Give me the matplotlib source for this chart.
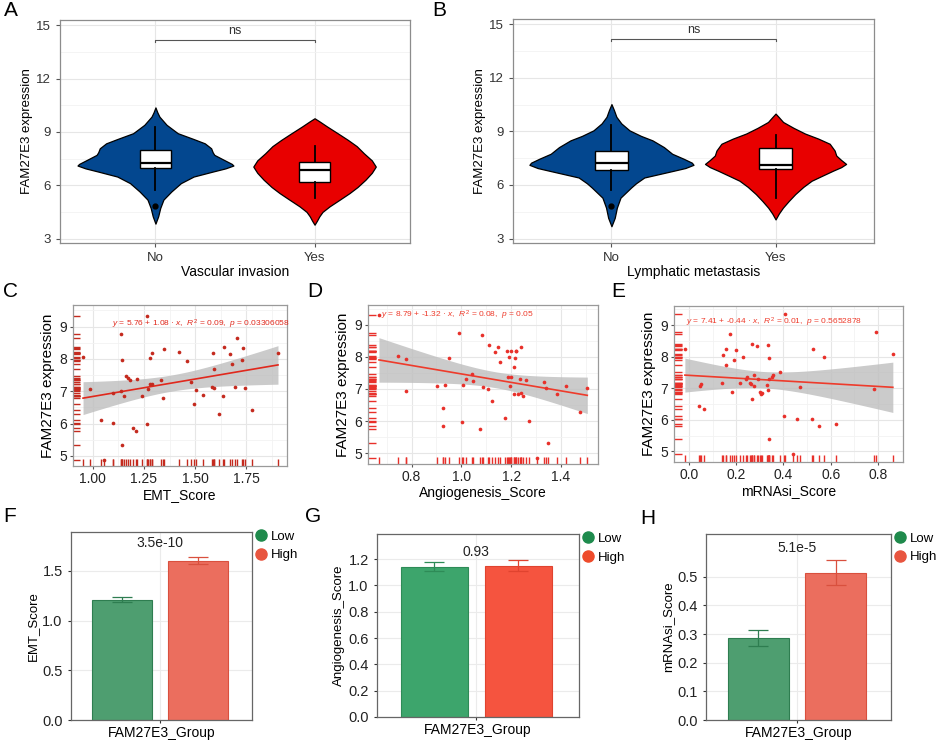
import numpy as np
import matplotlib
matplotlib.use('Agg')
import matplotlib.pyplot as plt
import seaborn as sns
from matplotlib.lines import Line2D

plt.rcParams['font.family'] = ['Liberation Sans', 'DejaVu Sans']
plt.rcParams['mathtext.fontset'] = 'custom'
plt.rcParams['mathtext.it'] = 'Liberation Sans:italic'
plt.rcParams['mathtext.rm'] = 'Liberation Sans'

# ---- violin panels (A, B): outline profiles (value, half width)
groups = ['No', 'Yes']

a_no_y = [10.38, 10.1, 9.86, 9.4, 8.93, 8.6, 8.36, 8.08, 7.85, 7.71, 7.43, 7.2, 7.11, 6.95, 6.77, 6.49, 6.12, 5.65, 5.19, 4.72, 4.25, 3.84]
a_no_w = [0, 0.012, 0.025, 0.07, 0.14, 0.24, 0.31, 0.35, 0.36, 0.37, 0.43, 0.48, 0.49, 0.44, 0.36, 0.24, 0.16, 0.10, 0.05, 0.03, 0.017, 0]
a_yes_y = [9.77, 9.6, 9.3, 8.9, 8.55, 8.2, 7.8, 7.4, 7.05, 6.7, 6.31, 5.9, 5.56, 5.2, 4.81, 4.5, 4.25, 4.0, 3.78]
a_yes_w = [0, 0.03, 0.08, 0.15, 0.21, 0.265, 0.31, 0.36, 0.385, 0.36, 0.32, 0.27, 0.22, 0.16, 0.094, 0.05, 0.03, 0.015, 0]
b_no_y = [10.53, 10.2, 9.82, 9.45, 9.06, 8.75, 8.5, 8.12, 7.75, 7.47, 7.25, 7.13, 6.95, 6.8, 6.42, 6.1, 5.86, 5.29, 4.73, 4.16, 3.69]
b_no_w = [0, 0.015, 0.03, 0.06, 0.11, 0.18, 0.25, 0.32, 0.37, 0.44, 0.49, 0.5, 0.45, 0.38, 0.2, 0.15, 0.12, 0.055, 0.033, 0.02, 0]
b_yes_y = [10.0, 9.8, 9.53, 9.2, 8.88, 8.6, 8.31, 7.93, 7.65, 7.4, 7.18, 7.0, 6.8, 6.5, 6.24, 5.9, 5.49, 5.1, 4.73, 4.4, 4.07]
b_yes_w = [0, 0.02, 0.046, 0.11, 0.18, 0.26, 0.33, 0.36, 0.37, 0.4, 0.43, 0.4, 0.35, 0.28, 0.22, 0.17, 0.12, 0.08, 0.045, 0.02, 0]

# box stats: q1, median, q3, whisker low, whisker high
a_box_no = [6.95, 7.24, 8.0, 5.75, 9.3]
a_box_yes = [6.21, 6.87, 7.33, 5.28, 8.21]
b_box_no = [6.84, 7.21, 7.93, 5.7, 9.35]
b_box_yes = [6.9, 7.12, 8.07, 5.29, 8.78]
a_fliers_no = [4.81]
b_fliers_no = [4.82]
sig_y = 14.2

# ---- scatter panels (C, D, E)
c_x = [0.953, 0.989, 1.039, 1.055, 1.097, 1.10, 1.138, 1.144, 1.138, 1.152, 1.141, 1.164, 1.17, 1.18, 1.214,
       1.199, 1.21, 1.243, 1.264, 1.267, 1.27, 1.28, 1.282, 1.29, 1.29, 1.332, 1.342, 1.347, 1.42, 1.462,
       1.481, 1.492, 1.504, 1.538, 1.585, 1.591, 1.583, 1.59, 1.615, 1.64, 1.635, 1.669, 1.679, 1.693, 1.705,
       1.727, 1.734, 1.745, 1.779, 1.904]
c_y = [8.05, 7.06, 6.10, 4.88, 6.02, 6.94, 8.76, 7.97, 7.0, 6.85, 5.34, 7.48, 7.42, 7.34, 7.38,
       5.87, 5.76, 6.85, 5.98, 9.34, 7.06, 8.02, 7.23, 8.19, 7.24, 7.34, 6.78, 8.32, 8.21, 7.93,
       7.28, 6.62, 7.04, 6.9, 8.19, 7.7, 7.13, 7.11, 6.29, 8.36, 6.84, 8.15, 7.86, 7.12, 8.66,
       7.97, 8.33, 7.09, 6.42, 8.2]
d_x = [0.669, 0.745, 0.777, 0.777, 0.903, 0.933, 0.926, 0.926, 0.95, 0.989, 1.005, 1.004, 1.02, 1.042, 1.045,
       1.083, 1.087, 1.107, 1.112, 1.123, 1.073, 1.135, 1.147, 1.155, 1.175, 1.184, 1.188, 1.192, 1.194, 1.2,
       1.199, 1.212, 1.21, 1.217, 1.218, 1.22, 1.229, 1.237, 1.239, 1.241, 1.246, 1.258, 1.27, 1.302, 1.332,
       1.34, 1.349, 1.385, 1.421, 1.478, 1.506]
d_y = [9.31, 8.04, 7.92, 6.93, 7.08, 7.13, 6.40, 5.83, 7.96, 8.74, 7.12, 5.97, 7.32, 7.47, 7.24,
       8.67, 7.06, 7.0, 8.37, 6.61, 5.75, 8.15, 8.32, 7.85, 6.09, 8.2, 7.36, 8.01, 7.1, 7.38,
       8.2, 7.69, 6.84, 7.96, 8.2, 8.17, 6.84, 7.32, 8.32, 6.89, 6.77, 7.29, 6.0, 4.86, 7.23,
       7.04, 5.33, 6.85, 7.1, 6.28, 7.03]
e_x = [-0.017, 0.042, 0.046, 0.051, 0.066, 0.141, 0.145, 0.158, 0.159, 0.176, 0.183, 0.189, 0.199, 0.227, 0.218,
       0.244, 0.242, 0.258, 0.263, 0.266, 0.269, 0.275, 0.277, 0.29, 0.293, 0.3, 0.304, 0.311, 0.332, 0.335,
       0.338, 0.337, 0.335, 0.339, 0.351, 0.356, 0.385, 0.401, 0.406, 0.441, 0.456, 0.47, 0.52, 0.527, 0.552,
       0.57, 0.624, 0.782, 0.79, 0.863]
e_y = [8.23, 6.44, 7.07, 7.13, 6.34, 7.16, 8.05, 7.74, 8.23, 8.71, 6.87, 7.89, 8.21, 8.0, 7.16,
       7.35, 7.29, 7.16, 7.13, 6.66, 8.39, 7.07, 7.42, 8.35, 7.28, 6.88, 6.81, 6.86, 7.11, 8.37,
       7.96, 7.29, 6.95, 5.38, 7.35, 7.42, 7.52, 6.13, 9.37, 4.92, 6.04, 7.03, 6.02, 8.24, 5.79,
       8.0, 5.87, 6.97, 8.78, 8.08]
c_coef = (5.76, 1.08)
d_coef = (8.79, -1.32)
e_coef = (7.41, -0.44)
c_eq = r'$y$ = 5.76 + 1.08 · $x$,  $R^2$ = 0.09,  $p$ = 0.03306058'
d_eq = r'$y$ = 8.79 + -1.32 · $x$,  $R^2$ = 0.08,  $p$ = 0.05'
e_eq = r'$y$ = 7.41 + -0.44 · $x$,  $R^2$ = 0.01,  $p$ = 0.5652878'

# ---- bar panels (F, G, H)
bar_groups = ['Low', 'High']
f_mean = [1.21, 1.60]
f_err = [0.026, 0.035]
g_mean = [1.142, 1.15]
g_err = [0.033, 0.04]
h_mean = [0.286, 0.514]
h_err = [0.028, 0.044]
f_p, g_p, h_p = '3.5e-10', '0.93', '5.1e-5'

W, H = 941, 743
fig = plt.figure(figsize=(W / 100, H / 100), dpi=100)


def px_axes(l, t, r, b):
    return fig.add_axes([l / W, 1 - b / H, (r - l) / W, (b - t) / H])


def style_frame(ax, color='#8C8C8C'):
    for s in ax.spines.values():
        s.set_color(color)
        s.set_linewidth(0.9)


def violin_panel(ax, profiles, boxes, fliers, xlabel):
    colors = ['#03478F', '#E80000']
    for i, ((ys, ws), col) in enumerate(zip(profiles, colors)):
        ys, ws = np.array(ys), np.array(ws)
        st = dict(coords=ys, vals=ws, mean=ys.mean(), median=ys.mean(),
                  min=ys.min(), max=ys.max(), quantiles=np.array([]))
        parts = ax.violin([st], positions=[i + 1], widths=[2 * ws.max()],
                          showextrema=False)
        for pc in parts['bodies']:
            pc.set_facecolor(col)
            pc.set_edgecolor('black')
            pc.set_linewidth(0.9)
            pc.set_alpha(1)
            pc.set_zorder(2)
    stats = []
    for (q1, med, q3, lo, hi), fl in zip(boxes, fliers):
        stats.append(dict(q1=q1, med=med, q3=q3, whislo=lo, whishi=hi, fliers=fl))
    ax.bxp(stats, positions=[1, 2], widths=0.2, patch_artist=True, showcaps=False,
           boxprops=dict(facecolor='white', edgecolor='black', linewidth=1),
           medianprops=dict(color='black', linewidth=1.6),
           whiskerprops=dict(color='black', linewidth=1.3),
           flierprops=dict(marker='o', markerfacecolor='black', markeredgecolor='black',
                           markersize=3.5),
           zorder=3)
    ax.plot([1, 1, 2, 2], [sig_y - 0.12, sig_y, sig_y, sig_y - 0.12], color='#555555', lw=0.8)
    ax.text(1.5, sig_y + 0.12, 'ns', ha='center', va='bottom', fontsize=9, color='#333333')
    ax.set_xlim(0.4, 2.6)
    ax.set_ylim(2.75, 15.3)
    ax.set_xticks([1, 2])
    ax.set_xticklabels(groups)
    ax.set_yticks([3, 6, 9, 12, 15])
    ax.set_yticks([4.5, 7.5, 10.5, 13.5], minor=True)
    ax.grid(which='major', color='#E6E6E6', lw=0.8)
    ax.grid(which='minor', axis='y', color='#F2F2F2', lw=0.6)
    ax.set_axisbelow(True)
    ax.tick_params(which='minor', length=0)
    ax.tick_params(which='major', length=3, color='#555555', labelcolor='#333333', labelsize=9.5)
    ax.set_ylabel('FAM27E3 expression', fontsize=9.5, labelpad=2)
    ax.set_xlabel(xlabel, fontsize=10, labelpad=1)
    style_frame(ax)


def reg_panel(ax, xs, ys, coef, eq, eq_pos, pcolor, lcolor, xlim, ylim, xticks, xminor, xfmt, xlabel):
    xs, ys = np.array(xs), np.array(ys)
    b0, b1 = coef
    n = len(xs)
    xbar = xs.mean()
    sxx = ((xs - xbar) ** 2).sum()
    s = np.sqrt(((ys - (b0 + b1 * xs)) ** 2).sum() / (n - 2))
    grid = np.linspace(xs.min(), xs.max(), 100)
    fit = b0 + b1 * grid
    se = s * np.sqrt(1 / n + (grid - xbar) ** 2 / sxx)
    ax.fill_between(grid, fit - 2.01 * se, fit + 2.01 * se, color='#BEBEBE', alpha=0.8, lw=0, zorder=2)
    ax.plot(grid, fit, color=lcolor, lw=1.2, zorder=3)
    ax.scatter(xs, ys, s=7, color=pcolor, zorder=4, linewidths=0)
    sns.rugplot(x=xs, ax=ax, height=0.045, color=pcolor, lw=1)
    sns.rugplot(y=ys, ax=ax, height=0.035, color=pcolor, lw=1)
    ax.text(eq_pos[0], eq_pos[1], eq, ha='left', va='center', fontsize=6, color=lcolor, zorder=5)
    ax.set_xlim(*xlim)
    ax.set_ylim(*ylim)
    ax.set_xticks(xticks)
    ax.set_xticklabels([xfmt.format(v) for v in xticks])
    ax.set_xticks(xminor, minor=True)
    ax.set_yticks([5, 6, 7, 8, 9])
    ax.set_yticks([5.5, 6.5, 7.5, 8.5, 9.5], minor=True)
    ax.grid(which='major', color='#E6E6E6', lw=0.8)
    ax.grid(which='minor', color='#F2F2F2', lw=0.6)
    ax.set_axisbelow(True)
    ax.tick_params(which='minor', length=0)
    ax.tick_params(which='major', length=2.5, pad=2, color='#555555', labelcolor='#222222', labelsize=10)
    ax.set_ylabel('FAM27E3 expression', fontsize=11, labelpad=3)
    ax.set_xlabel(xlabel, fontsize=10, labelpad=1)
    style_frame(ax, '#9A9A9A')


def bar_panel(ax, means, errs, colors, ecolors, lcolors, ylim, yticks, ylabel, ptext, ptext_y):
    pos = (np.arange(len(means)) - 0.5) * 0.5
    for p, m, e, c, ec in zip(pos, means, errs, colors, ecolors):
        ax.bar(p, m, width=0.4, color=c, edgecolor=ec, linewidth=0.8, zorder=2)
        ax.errorbar(p, m, yerr=e, color=ec, capsize=7, elinewidth=0.9, capthick=0.9, zorder=3)
    ax.text(0, ptext_y, ptext, ha='center', va='center', fontsize=10, color='#222222')
    ax.set_xlim(-0.59, 0.61)
    ax.set_ylim(*ylim)
    ax.set_xticks([0])
    ax.set_yticks(yticks)
    ax.grid(color='#EBEBEB', lw=0.8)
    ax.set_axisbelow(True)
    ax.tick_params(length=2.5, color='#333333', labelcolor='#222222', labelsize=10.5)
    ax.tick_params(axis='x', labelbottom=False)
    ax.set_ylabel(ylabel, fontsize=9.5, labelpad=2)
    ax.set_xlabel('FAM27E3_Group', fontsize=10, labelpad=2)
    style_frame(ax, '#666666')
    handles = [Line2D([], [], ls='', marker='o', markersize=8, color=c) for c in lcolors]
    ax.legend(handles, bar_groups, loc='upper left', bbox_to_anchor=(1.0, 1.03), frameon=False,
              handlelength=0.8, handletextpad=0.3, borderaxespad=0.1, borderpad=0.2,
              labelspacing=0.5, fontsize=9.5)


# A, B
ax_a = px_axes(60, 20, 410, 243)
violin_panel(ax_a, [(a_no_y, a_no_w), (a_yes_y, a_yes_w)], [a_box_no, a_box_yes],
             [a_fliers_no, []], 'Vascular invasion')
ax_b = px_axes(513, 19, 874, 243)
violin_panel(ax_b, [(b_no_y, b_no_w), (b_yes_y, b_yes_w)], [b_box_no, b_box_yes],
             [b_fliers_no, []], 'Lymphatic metastasis')

# C, D, E
ax_c = px_axes(73, 305, 287, 466)
reg_panel(ax_c, c_x, c_y, c_coef, c_eq, (1.094, 9.07), '#C42A1E', '#E0281C',
          (0.904, 1.948), (4.69, 9.67), [1.0, 1.25, 1.5, 1.75], [1.125, 1.375, 1.625, 1.875],
          '{:.2f}', 'EMT_Score')
ax_d = px_axes(368, 305, 598, 464)
reg_panel(ax_d, d_x, d_y, d_coef, d_eq, (0.678, 9.31), '#E8302A', '#EE3B2B',
          (0.625, 1.549), (4.66, 9.62), [0.8, 1.0, 1.2, 1.4], [0.7, 0.9, 1.1, 1.3, 1.5],
          '{:.1f}', 'Angiogenesis_Score')
ax_e = px_axes(674, 306, 903, 462)
reg_panel(ax_e, e_x, e_y, e_coef, e_eq, (-0.014, 9.08), '#E8302A', '#EE3B2B',
          (-0.063, 0.906), (4.66, 9.61), [0.0, 0.2, 0.4, 0.6, 0.8], [0.1, 0.3, 0.5, 0.7],
          '{:.1f}', 'mRNAsi_Score')

# F, G, H
ax_f = px_axes(71, 532, 252, 720)
bar_panel(ax_f, f_mean, f_err, ['#4E9E70', '#EB6E5E'], ['#2E7D50', '#D9503E'],
          ['#1F8A4C', '#E8553F'], (0, 1.89), [0.0, 0.5, 1.0, 1.5], 'EMT_Score', f_p, 1.78)
ax_g = px_axes(377, 534, 579, 717)
bar_panel(ax_g, g_mean, g_err, ['#3DA56C', '#F5543F'], ['#2E8B57', '#E0432F'],
          ['#1E8B4D', '#EE4B2B'], (0, 1.39), [0.0, 0.2, 0.4, 0.6, 0.8, 1.0, 1.2],
          'Angiogenesis_Score', g_p, 1.256)
ax_h = px_axes(706, 534, 891, 720)
bar_panel(ax_h, h_mean, h_err, ['#4E9E70', '#EB6E5E'], ['#2E7D50', '#D9503E'],
          ['#1F8A4C', '#E8553F'], (0, 0.649), [0.0, 0.1, 0.2, 0.3, 0.4, 0.5],
          'mRNAsi_Score', h_p, 0.6)

# panel letters
for lab, x, y in [('A', 4, 10), ('B', 432, 10), ('C', 3, 292), ('D', 307, 292), ('E', 611, 292),
                  ('F', 3, 517), ('G', 305, 517), ('H', 640, 518)]:
    fig.text(x / W, 1 - y / H, lab, fontsize=15, ha='left', va='center')

fig.savefig('out.png', dpi=100)
